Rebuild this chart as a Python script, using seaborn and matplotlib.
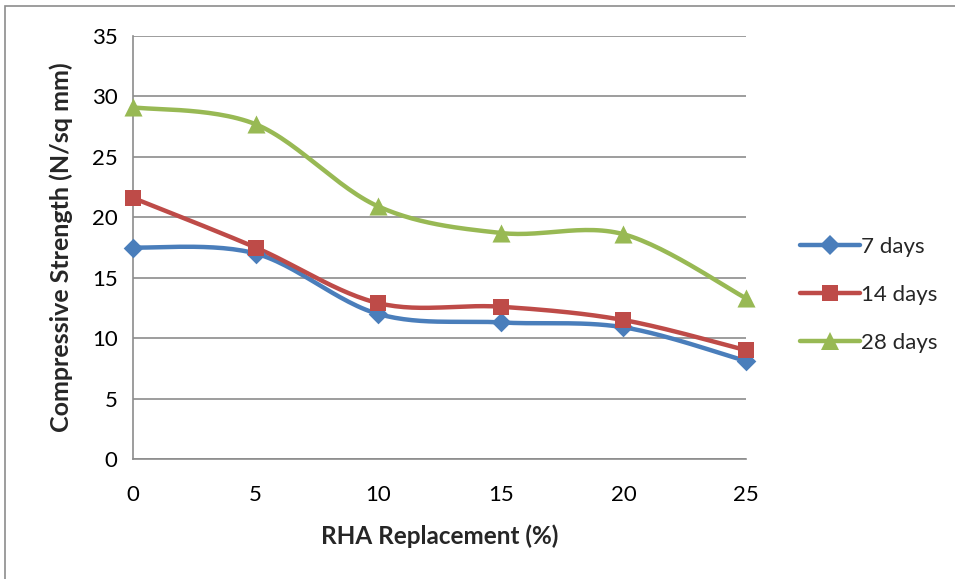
import numpy as np
import pandas as pd
import seaborn as sns
import matplotlib.pyplot as plt
from matplotlib.lines import Line2D
from matplotlib.patches import Rectangle

# data
rha = [0, 5, 10, 15, 20, 25]
days_7 = [17.5, 17.0, 12.0, 11.3, 10.9, 8.1]
days_14 = [21.6, 17.5, 12.9, 12.6, 11.5, 9.0]
days_28 = [29.1, 27.7, 20.9, 18.7, 18.6, 13.3]
series_names = ["7 days", "14 days", "28 days"]

colors = {"7 days": "#4A7EBB", "14 days": "#BE4B48", "28 days": "#98B954"}
markers = {"7 days": "D", "14 days": "s", "28 days": "^"}
msizes = {"7 days": 10, "14 days": 12, "28 days": 13}


def smooth(x, y, n=30):
    """Excel-like smoothed line (Catmull-Rom bezier between points)."""
    x = np.asarray(x, float)
    y = np.asarray(y, float)
    px = np.concatenate([[x[0]], x, [x[-1]]])
    py = np.concatenate([[y[0]], y, [y[-1]]])
    xs, ys = [], []
    t = np.linspace(0, 1, n)
    for i in range(1, len(px) - 2):
        p0, p1, p2, p3 = (np.array([px[j], py[j]]) for j in (i - 1, i, i + 1, i + 2))
        c1 = p1 + (p2 - p0) / 6
        c2 = p2 - (p3 - p1) / 6
        pts = ((1 - t) ** 3)[:, None] * p1 + (3 * (1 - t) ** 2 * t)[:, None] * c1 \
            + (3 * (1 - t) * t ** 2)[:, None] * c2 + (t ** 3)[:, None] * p2
        xs.extend(pts[:, 0])
        ys.extend(pts[:, 1])
    return xs, ys


df = pd.DataFrame({"RHA": rha * 3,
                   "Strength": days_7 + days_14 + days_28,
                   "Age": np.repeat(series_names, len(rha))})

sns.set_style("white")
plt.rcParams["font.family"] = ["Lato", "DejaVu Sans"]

fig = plt.figure(figsize=(9.55, 5.79), dpi=100)
ax = fig.add_axes([133 / 955, 1 - 459 / 579, (746 - 133) / 955, (459 - 36) / 579])

for name in series_names:
    sub = df[df["Age"] == name]
    sx, sy = smooth(sub["RHA"], sub["Strength"])
    curve = pd.DataFrame({"x": sx, "y": sy})
    sns.lineplot(data=curve, x="x", y="y", sort=False, color=colors[name],
                 linewidth=3.2, ax=ax, zorder=3)
    sns.scatterplot(data=sub, x="RHA", y="Strength", marker=markers[name],
                    s=msizes[name] ** 2, color=colors[name], edgecolor=colors[name],
                    linewidth=0, ax=ax, zorder=4, clip_on=False)

ax.set_xlim(0, 25)
ax.set_ylim(0, 35)
ax.set_xticks(rha)
ax.set_yticks(range(0, 36, 5))
ax.yaxis.grid(True, color="#8C8C8C", linewidth=1.2)
ax.set_axisbelow(True)
for side in ["top", "right"]:
    ax.spines[side].set_visible(False)
for side in ["left", "bottom"]:
    ax.spines[side].set_color("#8C8C8C")
    ax.spines[side].set_linewidth(1.2)
ax.tick_params(axis="both", length=0, labelsize=16, colors="black")
ax.tick_params(axis="x", pad=19)
ax.tick_params(axis="y", pad=11)
ax.set_xlabel("RHA Replacement (%)", fontsize=17.5, fontweight="bold", labelpad=14)
ax.set_ylabel("Compressive Strength (N/sq mm)", fontsize=18, fontweight="bold", labelpad=14)

handles = [Line2D([0], [0], color=colors[n], linewidth=3.2, marker=markers[n],
                  markersize=msizes[n], markeredgewidth=0) for n in series_names]
leg = ax.legend(handles, series_names, loc="center left", bbox_to_anchor=(1.088, 0.388),
                frameon=False, fontsize=16, handlelength=2.7, handletextpad=0.05,
                labelspacing=1.25, borderpad=0, borderaxespad=0)

fig.add_artist(Rectangle((5 / 955, -0.1), 1.2, 1 - 6 / 579 + 0.1, transform=fig.transFigure,
                         fill=False, edgecolor="#8C8C8C", linewidth=1.2))

fig.savefig("out.png", dpi=100)
